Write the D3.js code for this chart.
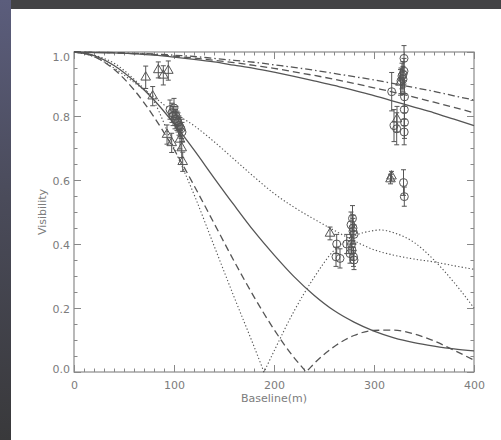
<!DOCTYPE html>
<html>
<head>
<meta charset="utf-8">
<script src="https://cdn.jsdelivr.net/npm/d3@7"></script>
<style>
  html, body { margin: 0; padding: 0; background: #3b3b3e; }
  svg { display: block; }
  text { font-family: "DejaVu Sans", sans-serif; fill: #7c7c7c; }
</style>
</head>
<body>
<svg id="chart" width="501" height="440"></svg>
<script>
// Baseline grid (m) for the smooth model curves
const gridX = [0, 20, 40, 60, 80, 100, 120, 140, 160, 180, 200, 220, 240, 260, 280, 300, 320, 340, 360, 380, 400];

// Compact models (upper curves)
const upperSolid   = [1, 0.998, 0.997, 0.994, 0.990, 0.984, 0.977, 0.969, 0.959, 0.949, 0.937, 0.924, 0.910, 0.896, 0.880, 0.864, 0.846, 0.828, 0.810, 0.790, 0.770];
const upperDashed  = [1, 0.999, 0.998, 0.995, 0.992, 0.987, 0.981, 0.974, 0.967, 0.958, 0.949, 0.938, 0.927, 0.915, 0.902, 0.888, 0.874, 0.859, 0.843, 0.827, 0.810];
const upperDashDot = [1, 0.999, 0.998, 0.996, 0.994, 0.990, 0.986, 0.980, 0.974, 0.968, 0.960, 0.952, 0.943, 0.933, 0.923, 0.913, 0.901, 0.889, 0.877, 0.863, 0.850];

// Extended models (lower curves)
const lowerSolid   = [1, 0.989, 0.958, 0.910, 0.850, 0.776, 0.694, 0.607, 0.522, 0.440, 0.366, 0.298, 0.240, 0.192, 0.156, 0.128, 0.107, 0.092, 0.081, 0.072, 0.066];
const dottedWide   = [1, 0.985, 0.95, 0.905, 0.86, 0.81, 0.77, 0.72, 0.665, 0.61, 0.558, 0.515, 0.478, 0.443, 0.41, 0.382, 0.365, 0.353, 0.344, 0.332, 0.321];

// Uniform-disk model, with its first null
const diskX = [0, 20, 40, 60, 80, 100, 120, 140, 160, 180, 200, 220, 230, 232, 234, 240, 260, 280, 300, 320, 340, 360, 380, 400];
const diskV = [1, 0.986, 0.946, 0.882, 0.797, 0.696, 0.583, 0.465, 0.347, 0.235, 0.133, 0.045, 0.008, 0, 0.006, 0.026, 0.079, 0.114, 0.130, 0.131, 0.119, 0.097, 0.068, 0.037];

// Ring model, with its first null
const ringX = [0, 20, 40, 60, 80, 100, 120, 140, 160, 180, 188, 190, 192, 200, 220, 240, 260, 280, 300, 306, 320, 340, 360, 380, 400];
const ringV = [1, 0.99, 0.965, 0.915, 0.845, 0.70, 0.555, 0.395, 0.235, 0.08, 0.016, 0, 0.013, 0.065, 0.19, 0.295, 0.38, 0.425, 0.442, 0.444, 0.435, 0.405, 0.35, 0.28, 0.20];

// Measurements: baseline (m), visibility, 1-sigma error
const triX   = [71.7, 78.7, 84.3, 89.3, 94.3, 93.0, 97.7, 106.0, 107.7, 108.7, 256.0, 316.5, 317.5, 323.0, 326.5];
const triV   = [0.921, 0.862, 0.944, 0.927, 0.942, 0.742, 0.716, 0.727, 0.700, 0.657, 0.433, 0.603, 0.612, 0.790, 0.905];
const triErr = [0.035, 0.030, 0.025, 0.030, 0.030, 0.030, 0.030, 0.030, 0.030, 0.030, 0.020, 0.015, 0.015, 0.040, 0.040];

const circX   = [96, 98, 99, 100, 101, 102, 103, 104, 105, 106, 107, 108,
                 262.7, 262, 266, 272.7, 276, 277, 277.5, 278, 278.5, 279, 279, 279.5, 280, 280,
                 317.7, 320, 322.7, 327, 328, 329, 329, 330, 330, 330.5, 330.3, 330.5, 330.2, 329.5, 330.3];
const circV   = [0.82, 0.81, 0.80, 0.825, 0.79, 0.80, 0.785, 0.78, 0.77, 0.765, 0.76, 0.75,
                 0.40, 0.36, 0.355, 0.40, 0.37, 0.46, 0.40, 0.38, 0.48, 0.44, 0.45, 0.36, 0.35, 0.43,
                 0.876, 0.77, 0.76, 0.91, 0.925, 0.93, 0.915, 0.98, 0.94, 0.86, 0.82, 0.78, 0.75, 0.592, 0.548];
const circErr = [0.03, 0.03, 0.03, 0.03, 0.03, 0.03, 0.03, 0.03, 0.03, 0.03, 0.03, 0.03,
                 0.03, 0.03, 0.03, 0.03, 0.03, 0.04, 0.03, 0.03, 0.04, 0.04, 0.04, 0.03, 0.03, 0.03,
                 0.06, 0.05, 0.05, 0.04, 0.04, 0.04, 0.04, 0.04, 0.04, 0.05, 0.05, 0.05, 0.04, 0.04, 0.03];

const xTicks = [0, 100, 200, 300, 400];
const yTicks = [0, 0.2, 0.4, 0.6, 0.8, 1.0];

const svg = d3.select("#chart");
const W = 501, H = 440;
const ink = "#555555";

// dark backdrop with a faint bluish cast on the left edge
const defs = svg.append("defs");
const grad = defs.append("linearGradient").attr("id", "edge").attr("x1", 0).attr("y1", 0).attr("x2", 0).attr("y2", 1);
grad.append("stop").attr("offset", "0").attr("stop-color", "#5b5d7c");
grad.append("stop").attr("offset", "0.45").attr("stop-color", "#4a4b5a");
grad.append("stop").attr("offset", "1").attr("stop-color", "#39393b");
svg.append("rect").attr("width", W).attr("height", H).attr("fill", "#434345");
svg.append("rect").attr("x", 0).attr("y", 0).attr("width", 11).attr("height", H).attr("fill", "url(#edge)");
svg.append("rect").attr("x", 11).attr("y", 9).attr("width", W - 11).attr("height", H - 9).attr("fill", "#ffffff");

const x = d3.scaleLinear().domain([0, 400]).range([74, 474]);
const y = d3.scaleLinear().domain([0, 1]).range([372, 52]);

// axes: major and minor ticks on all four sides, pointing inward
function styleAxis(g) {
  g.select(".domain").remove();
  g.selectAll("line").attr("stroke", "#888").attr("stroke-width", 1);
  g.selectAll("text").attr("font-size", 11).attr("fill", "#7c7c7c");
}
svg.append("g").attr("transform", `translate(0,${y(0)})`)
  .call(d3.axisBottom(x).tickValues(xTicks).tickSize(-7).tickPadding(9).tickFormat(d3.format("d")))
  .call(styleAxis);
svg.append("g").attr("transform", `translate(0,${y(0)})`)
  .call(d3.axisBottom(x).tickValues(d3.range(0, 401, 10)).tickSize(-3.5).tickFormat(""))
  .call(styleAxis);
svg.append("g").attr("transform", `translate(0,${y(1)})`)
  .call(d3.axisTop(x).tickValues(xTicks).tickSize(-7).tickFormat(""))
  .call(styleAxis);
svg.append("g").attr("transform", `translate(0,${y(1)})`)
  .call(d3.axisTop(x).tickValues(d3.range(0, 401, 10)).tickSize(-3.5).tickFormat(""))
  .call(styleAxis);
const yl = svg.append("g").attr("transform", `translate(${x(0)},0)`)
  .call(d3.axisLeft(y).tickValues(yTicks).tickSize(-7).tickPadding(4).tickFormat(d3.format(".1f")))
  .call(styleAxis);
yl.selectAll(".tick text").attr("dy", d => d === 1 ? "0.75em" : d === 0 ? "0.05em" : "0.4em");
svg.append("g").attr("transform", `translate(${x(0)},0)`)
  .call(d3.axisLeft(y).tickValues(d3.range(0, 1.001, 0.05)).tickSize(-3.5).tickFormat(""))
  .call(styleAxis);
svg.append("g").attr("transform", `translate(${x(400)},0)`)
  .call(d3.axisRight(y).tickValues(yTicks).tickSize(-7).tickFormat(""))
  .call(styleAxis);
svg.append("g").attr("transform", `translate(${x(400)},0)`)
  .call(d3.axisRight(y).tickValues(d3.range(0, 1.001, 0.05)).tickSize(-3.5).tickFormat(""))
  .call(styleAxis);

svg.append("rect").attr("x", x(0)).attr("y", y(1)).attr("width", x(400) - x(0)).attr("height", y(0) - y(1))
  .attr("fill", "none").attr("stroke", "#8a8a8a").attr("stroke-width", 1.2);

// axis titles
svg.append("text").attr("x", (x(0) + x(400)) / 2).attr("y", 402).attr("text-anchor", "middle")
  .attr("font-size", 11).text("Baseline(m)");
svg.append("text").attr("transform", `translate(46,${(y(0) + y(1)) / 2}) rotate(-90)`)
  .attr("text-anchor", "middle").attr("font-size", 11).text("Visibility");

// model curves
const plot = svg.append("g");
const line = d3.line().x(d => x(d[0])).y(d => y(d[1])).curve(d3.curveMonotoneX);
function drawCurve(xs, vs, dash, width) {
  plot.append("path").datum(xs.map((v, i) => [v, vs[i]]))
    .attr("d", line).attr("fill", "none").attr("stroke", ink)
    .attr("stroke-width", width).attr("stroke-dasharray", dash);
}
drawCurve(gridX, upperSolid, null, 1.3);
drawCurve(gridX, upperDashed, "7,4", 1.3);
drawCurve(gridX, upperDashDot, "7,3,1.5,3", 1.3);
drawCurve(gridX, lowerSolid, null, 1.3);
drawCurve(diskX, diskV, "7,4", 1.3);
drawCurve(ringX, ringV, "1.3,2.2", 1.1);
drawCurve(gridX, dottedWide, "1.3,2.2", 1.1);

// error bars
function drawErrors(xs, vs, es) {
  const g = plot.append("g").attr("stroke", ink).attr("stroke-width", 1);
  xs.forEach((xv, i) => {
    const cx = x(xv), top = y(vs[i] + es[i]), bot = y(vs[i] - es[i]);
    g.append("line").attr("x1", cx).attr("x2", cx).attr("y1", top).attr("y2", bot);
    g.append("line").attr("x1", cx - 2.5).attr("x2", cx + 2.5).attr("y1", top).attr("y2", top);
    g.append("line").attr("x1", cx - 2.5).attr("x2", cx + 2.5).attr("y1", bot).attr("y2", bot);
  });
}
drawErrors(triX, triV, triErr);
drawErrors(circX, circV, circErr);

// markers
plot.append("g").selectAll("path").data(triX.map((v, i) => [v, triV[i]])).join("path")
  .attr("d", d3.symbol(d3.symbolTriangle, 40))
  .attr("transform", d => `translate(${x(d[0])},${y(d[1])})`)
  .attr("fill", "none").attr("stroke", ink).attr("stroke-width", 1);
plot.append("g").selectAll("circle").data(circX.map((v, i) => [v, circV[i]])).join("circle")
  .attr("cx", d => x(d[0])).attr("cy", d => y(d[1])).attr("r", 4)
  .attr("fill", "none").attr("stroke", ink).attr("stroke-width", 1);
</script>
</body>
</html>
